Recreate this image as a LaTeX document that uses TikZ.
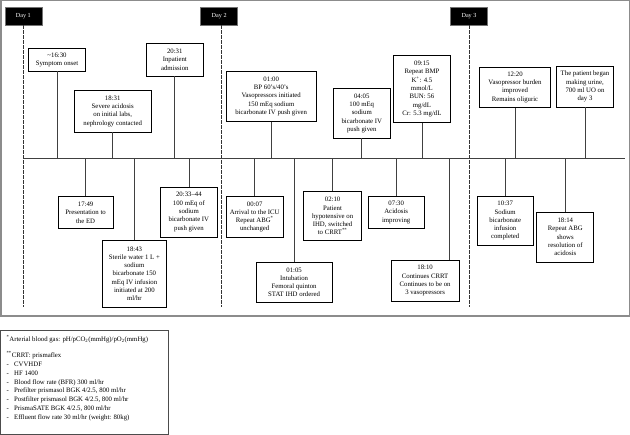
\documentclass[tikz,border=0pt]{standalone}
\usepackage{fontspec}
\setmainfont{Liberation Serif}
\begin{document}
\begin{tikzpicture}[x=1bp,y=-1bp]
\tikzset{
  ev/.style={draw=black, line width=0.7bp, fill=white, align=center, inner sep=1bp,
             font=\fontsize{6.8}{8.3}\selectfont},
  con/.style={draw=black!75, line width=0.7bp},
  daybox/.style={fill=black, draw=black!55, line width=0.5bp, text=white, minimum width=37bp,
                 minimum height=18bp, inner sep=0pt, font=\fontsize{6.2}{7}\selectfont},
  dayline/.style={draw=black!80, line width=0.8bp, dash pattern=on 3.3bp off 1.7bp},
  frame/.style={draw=black!45, line width=1.5bp},
  fnbox/.style={draw=black!70, line width=0.8bp},
  fn/.style={anchor=base west, inner sep=0pt, font=\fontsize{6.8}{8.3}\selectfont},
}
\useasboundingbox (0,0) rectangle (630,435);
% outer frame
\draw[frame] (0.75,0.75) rectangle (629.25,316.2);
% day markers
\node[daybox] (d1) at (23.3,16.1) {Day 1};
\node[daybox] (d2) at (219.2,16.1) {Day 2};
\node[daybox] (d3) at (469.0,16.1) {Day 3};
\coordinate (d1e) at (23.7,306.7);
\coordinate (d2e) at (221.5,306.7);
\coordinate (d3e) at (469.3,306.7);
\draw[dayline] (d1e |- d1.south) -- (d1e);
\draw[dayline] (d2e |- d2.south) -- (d2e);
\draw[dayline] (d3e |- d3.south) -- (d3e);
% timeline
\coordinate (tlL) at (23.7,158.7);
\coordinate (tlR) at (625,158.7);
\draw[draw=black!75, line width=0.9bp] (tlL) -- (tlR);
% top events
\node[ev, minimum width=57bp, minimum height=22.7bp] (t1) at (57,59.7) {\textasciitilde16:30\\Symptom onset};
\node[ev, minimum width=76.7bp, minimum height=41.3bp] (t2) at (112.7,111.3) {18:31\\Severe acidosis\\on initial labs,\\nephrology contacted};
\node[ev, minimum width=57.1bp, minimum height=32.7bp] (t3) at (174.8,59.7) {20:31\\Inpatient\\admission};
\node[ev, minimum width=90bp, minimum height=50bp] (t4) at (271.2,96.3) {01:00\\BP 60\textquoteright s/40\textquoteright s\\Vasopressors initiated\\150 mEq sodium\\bicarbonate IV push given};
\node[ev, minimum width=56.6bp, minimum height=49.3bp] (t5) at (361.8,113.3) {04:05\\100 mEq\\sodium\\bicarbonate IV\\push given};
\node[ev, minimum width=57.1bp, minimum height=67.4bp] (t6) at (421.9,89) {09:15\\Repeat BMP\\K\textsuperscript{+}: 4.5\\mmol/L\\BUN: 56\\mg/dL\\Cr: 5.3 mg/dL};
\node[ev, minimum width=71.5bp, minimum height=40.7bp] (t7) at (515,87.3) {12:20\\Vasopressor burden\\improved\\Remains oliguric};
\node[ev, minimum width=57bp, minimum height=40.7bp] (t8) at (585,86.7) {The patient began\\making urine,\\700 ml UO on\\day 3};
\foreach \n in {t1,t2,t3,t4,t5,t6,t7,t8}
  \draw[con] (\n.south) -- (\n.south |- tlL);
% bottom events
\node[ev, minimum width=54.6bp, minimum height=32bp] (b1) at (85.6,212.7) {17:49\\Presentation to\\the ED};
\node[ev, minimum width=63.8bp, minimum height=67.3bp] (b2) at (134.4,273.7) {18:43\\Sterile water 1 L +\\sodium\\bicarbonate 150\\mEq IV infusion\\initiated at 200\\ml/hr};
\node[ev, minimum width=57.1bp, minimum height=50bp] (b3) at (188.9,212) {20:33--44\\100 mEq of\\sodium\\bicarbonate IV\\push given};
\node[ev, minimum width=57bp, minimum height=40.6bp] (b4) at (254.7,217) {00:07\\Arrival to the ICU\\Repeat ABG\textsuperscript{*}\\unchanged};
\node[ev, minimum width=76.4bp, minimum height=40.7bp] (b5) at (294.1,282.3) {01:05\\Intubation\\Femoral quinton\\STAT IHD ordered};
\node[ev, minimum width=57.9bp, minimum height=49bp] (b6) at (332.6,216.2) {02:10\\Patient\\hypotensive on\\IHD, switched\\to CRRT\textsuperscript{**}};
\node[ev, minimum width=56.3bp, minimum height=31.3bp] (b7) at (396.2,212.3) {07:30\\Acidosis\\improving};
\node[ev, minimum width=68.2bp, minimum height=40.3bp] (b8) at (425.1,280.8) {18:10\\Continues CRRT\\Continues to be on\\3 vasopressors};
\node[ev, minimum width=56.6bp, minimum height=49.7bp] (b9) at (505.2,220.8) {10:37\\Sodium\\bicarbonate\\infusion\\completed};
\node[ev, minimum width=57bp, minimum height=50bp] (b10) at (565.3,237) {18:14\\Repeat ABG\\shows\\resolution of\\acidosis};
\foreach \n in {b1,b2,b3,b4,b5,b6,b7,b9,b10}
  \draw[con] (\n.north |- tlL) -- (\n.north);
\coordinate (b8c) at ([xshift=-10bp]b8.north east);
\draw[con] (b8c |- tlL) -- (b8c);
% footnote box
\draw[fnbox] (0.5,330) rectangle (168.7,434);
\node[fn] (f1) at (6.4,341.1) {\textsuperscript{*}Arterial blood gas: pH/pCO\textsubscript{2}(mmHg)/pO\textsubscript{2}(mmHg)};
\node[fn] (f2) at (6.4,357.3) {\textsuperscript{**}CRRT: prismaflex};
\node[fn] (f3) at (6.4,366.2) {\makebox[7.6bp][l]{-}CVVHDF};
\node[fn] (f4) at (6.4,375.1) {\makebox[7.6bp][l]{-}HF 1400};
\node[fn] (f5) at (6.4,384.0) {\makebox[7.6bp][l]{-}Blood flow rate (BFR) 300 ml/hr};
\node[fn] (f6) at (6.4,392.9) {\makebox[7.6bp][l]{-}Prefilter prismasol BGK 4/2.5, 800 ml/hr};
\node[fn] (f7) at (6.4,401.8) {\makebox[7.6bp][l]{-}Postfilter prismasol BGK 4/2.5, 800 ml/hr};
\node[fn] (f8) at (6.4,410.7) {\makebox[7.6bp][l]{-}PrismaSATE BGK 4/2.5, 800 ml/hr};
\node[fn] (f9) at (6.4,419.6) {\makebox[7.6bp][l]{-}Effluent flow rate 30 ml/hr (weight: 80kg)};
\end{tikzpicture}
\end{document}
